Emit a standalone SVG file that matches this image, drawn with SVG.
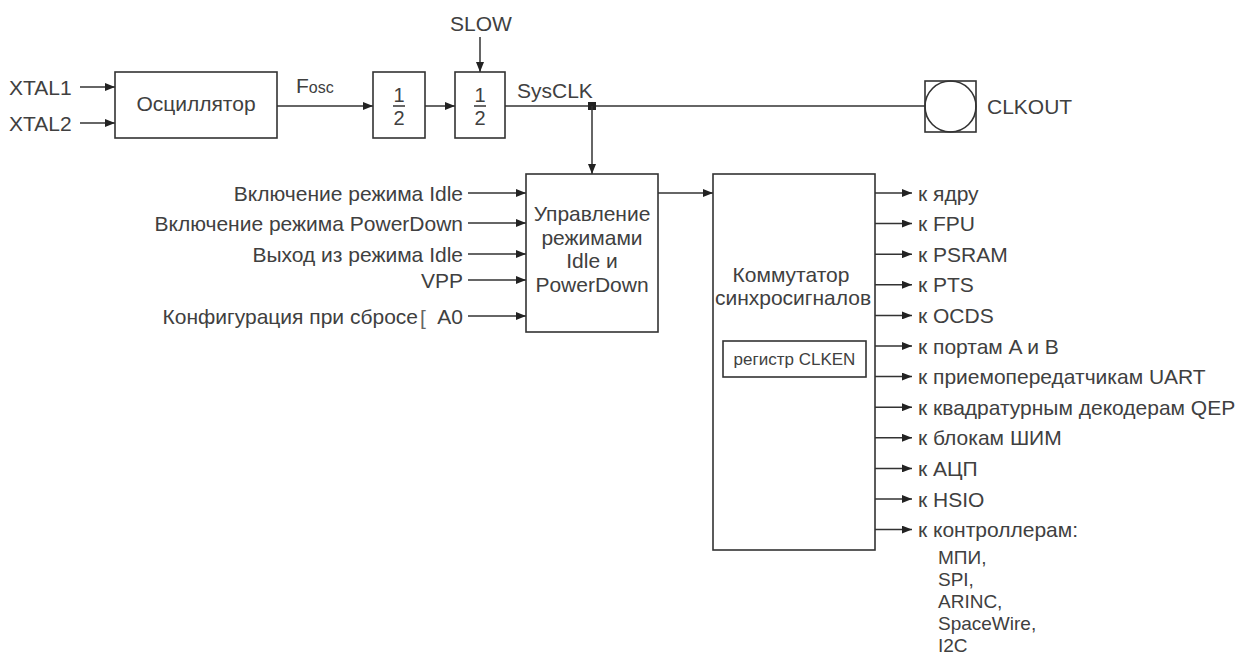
<svg xmlns="http://www.w3.org/2000/svg" width="1252" height="655" viewBox="0 0 1252 655">
<defs>
<marker id="arr" viewBox="0 0 10 8" refX="10" refY="4" markerWidth="10" markerHeight="8" markerUnits="userSpaceOnUse" orient="auto">
<path d="M0,0 L10,4 L0,8 Z" fill="#222"/>
</marker>
<style>
text{font-family:"Liberation Sans",Arial,sans-serif;font-size:21px;fill:#404040}
.box{fill:#fff;stroke:#333;stroke-width:1.6}
.ln{stroke:#333;stroke-width:1.5;fill:none}
.ar{stroke:#333;stroke-width:1.5;fill:none;marker-end:url(#arr)}
.c{text-anchor:middle}
.r{text-anchor:end}
.frac{font-size:20px}
.small{font-size:17px}
.sub{font-size:19px}
</style>
</defs>
<rect width="1252" height="655" fill="#fff"/>

<g id="connectors">
<line class="ar" x1="80" y1="87" x2="115" y2="87"/>
<line class="ar" x1="80" y1="123" x2="115" y2="123"/>
<line class="ar" x1="277" y1="106" x2="373" y2="106"/>
<line class="ar" x1="425" y1="106" x2="455" y2="106"/>
<line class="ar" x1="480" y1="37" x2="480" y2="72"/>
<line class="ln" x1="505" y1="106" x2="925" y2="106"/>
<rect x="588" y="102" width="8" height="8" fill="#222"/>
<line class="ar" x1="592" y1="106" x2="592" y2="174"/>
<line class="ar" x1="468" y1="193" x2="526" y2="193"/>
<line class="ar" x1="468" y1="223" x2="526" y2="223"/>
<line class="ar" x1="468" y1="254" x2="526" y2="254"/>
<line class="ar" x1="468" y1="280" x2="526" y2="280"/>
<line class="ar" x1="468" y1="316" x2="526" y2="316"/>
<line class="ar" x1="658" y1="193" x2="713" y2="193"/>
<line class="ar" x1="875" y1="193" x2="912" y2="193"/>
<line class="ar" x1="875" y1="223.6" x2="912" y2="223.6"/>
<line class="ar" x1="875" y1="254.2" x2="912" y2="254.2"/>
<line class="ar" x1="875" y1="284.8" x2="912" y2="284.8"/>
<line class="ar" x1="875" y1="315.4" x2="912" y2="315.4"/>
<line class="ar" x1="875" y1="346" x2="912" y2="346"/>
<line class="ar" x1="875" y1="376.6" x2="912" y2="376.6"/>
<line class="ar" x1="875" y1="407.2" x2="912" y2="407.2"/>
<line class="ar" x1="875" y1="437.8" x2="912" y2="437.8"/>
<line class="ar" x1="875" y1="468.4" x2="912" y2="468.4"/>
<line class="ar" x1="875" y1="499" x2="912" y2="499"/>
<line class="ar" x1="875" y1="529.6" x2="912" y2="529.6"/>
</g>

<g id="inputs-xtal">
<text x="9" y="94.5">XTAL1</text>
<text x="9" y="130.5">XTAL2</text>
</g>

<g id="oscillator">
<rect class="box" x="115" y="72" width="162" height="66"/>
<text class="c" x="196" y="110.5">Осциллятор</text>
</g>

<g id="fosc-label">
<text x="296" y="93">F<tspan font-size="16">osc</tspan></text>
</g>

<g id="div1">
<rect class="box" x="373" y="72" width="52" height="66"/>
<text class="c frac" x="399" y="102">1</text>
<line class="ln" x1="393" y1="106" x2="405" y2="106" stroke-width="1.2"/>
<text class="c frac" x="399" y="125">2</text>
</g>

<g id="div2">
<rect class="box" x="455" y="72" width="50" height="66"/>
<text class="c frac" x="480" y="102">1</text>
<line class="ln" x1="474" y1="106" x2="486" y2="106" stroke-width="1.2"/>
<text class="c frac" x="480" y="125">2</text>
</g>

<g id="slow">
<text class="c" x="481" y="30.5">SLOW</text>
</g>

<g id="sysclk-label">
<text x="517" y="97.5">SysCLK</text>
</g>

<g id="clkout">
<rect class="box" x="925" y="81" width="51" height="51"/>
<circle cx="950.5" cy="106.5" r="25.5" fill="none" stroke="#333" stroke-width="1.6"/>
<text x="987" y="113.5">CLKOUT</text>
</g>

<g id="mode-inputs">
<text class="r" x="463" y="200.5">Включение режима Idle</text>
<text class="r" x="463" y="230.5">Включение режима PowerDown</text>
<text class="r" x="463" y="261.5">Выход из режима Idle</text>
<text class="r" x="463" y="287.5">VPP</text>
<text class="r" x="418" y="323.5">Конфигурация при сбросе</text>
<text x="420" y="325" font-size="27" style="fill:#666">[</text>
<text class="r" x="463" y="323.5">A0</text>
</g>

<g id="mode-control">
<rect class="box" x="526" y="174" width="132" height="158"/>
<text class="c" x="592" y="220.5">Управление</text>
<text class="c" x="592" y="244.5">режимами</text>
<text class="c" x="592" y="267.5">Idle и</text>
<text class="c" x="592" y="291.5">PowerDown</text>
</g>

<g id="clock-switch">
<rect class="box" x="713" y="174" width="162" height="376"/>
<text class="c" x="791" y="281.5">Коммутатор</text>
<text class="c" x="793" y="304.5">синхросигналов</text>
<rect class="box" x="723" y="341" width="143" height="36"/>
<text class="c small" x="794.5" y="365">регистр CLKEN</text>
</g>

<g id="outputs">
<text x="918" y="200.5">к ядру</text>
<text x="918" y="231.1">к FPU</text>
<text x="918" y="261.7">к PSRAM</text>
<text x="918" y="292.3">к PTS</text>
<text x="918" y="322.9">к OCDS</text>
<text x="918" y="353.5">к портам A и B</text>
<text x="918" y="384.1">к приемопередатчикам UART</text>
<text x="918" y="414.7">к квадратурным декодерам QEP</text>
<text x="918" y="445.3">к блокам ШИМ</text>
<text x="918" y="475.9">к АЦП</text>
<text x="918" y="506.5">к HSIO</text>
<text x="918" y="537.1">к контроллерам:</text>
<text class="sub" x="938" y="564">МПИ,</text>
<text class="sub" x="938" y="586">SPI,</text>
<text class="sub" x="938" y="608">ARINC,</text>
<text class="sub" x="938" y="630">SpaceWire,</text>
<text class="sub" x="938" y="652">I2C</text>
</g>
</svg>
